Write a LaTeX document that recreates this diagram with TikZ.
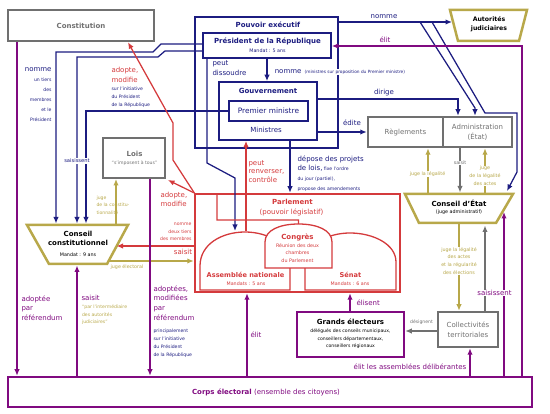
\documentclass[tikz,border=0pt]{standalone}
\usepackage{fontspec}
\setmainfont{DejaVu Sans}
\usetikzlibrary{arrows.meta}
\definecolor{nv}{HTML}{1C1C80}
\definecolor{rd}{HTML}{D43A3C}
\definecolor{pu}{HTML}{800A80}
\definecolor{ol}{HTML}{B8A84A}
\definecolor{gr}{HTML}{707070}
\newcommand\szA{\fontsize{7}{9.7}\selectfont}
\newcommand\szB{\fontsize{4.6}{8}\selectfont}
\newcommand\szT{\fontsize{7}{9}\selectfont\bfseries}
\begin{document}
\begin{tikzpicture}[x=1pt,y=-1pt,line join=miter]
\tikzset{
 box/.style={draw, line width=2.5pt, inner sep=0pt, align=center},
 nvl/.style={draw=nv, line width=1.25pt},
 rdl/.style={draw=rd, line width=1.25pt},
 oll/.style={draw=ol, line width=1.25pt},
 grl/.style={draw=gr, line width=1.25pt},
 pul/.style={draw=pu, line width=1.35pt},
 arr/.style={-{Latex[length=6.5pt,width=5.5pt]}},
 lb/.style={inner sep=0.3pt},
 wlb/.style={inner sep=0.6pt, fill=white},
 trap/.style={draw=ol, line width=2.5pt},
}
\useasboundingbox (0,0) rectangle (550,414);

% ---------- boxes ----------
\node[box,draw=gr,text=gr,font=\szT,minimum width=146,minimum height=31] (const) at (81,25.5) {Constitution};

\node[box,draw=nv,line width=2.8pt,minimum width=143,minimum height=131] (pe) at (266.5,82.5) {};
\node[lb,text=nv,font=\szT] (pet) at (268,25) {Pouvoir exécutif};
\node[box,draw=nv,line width=1.5pt,minimum width=128,minimum height=25] (pres) at (267,45.5) {};
\node[lb,text=nv,font=\szT] (prest) at (267.5,41) {Président de la République};
\node[lb,text=nv,font=\fontsize{4.8}{6}\selectfont] (presm) at (267.5,51) {Mandat : 5 ans};
\node[box,draw=nv,line width=1.8pt,minimum width=98,minimum height=58] (gov) at (268,111) {};
\node[lb,text=nv,font=\szT] (govt) at (268,91) {Gouvernement};
\node[box,draw=nv,line width=1.2pt,minimum width=79,minimum height=20,text=nv,font=\fontsize{7.4}{9}\selectfont] (pm) at (268.5,111) {Premier ministre};
\node[lb,text=nv,font=\szA] (min) at (266,130) {Ministres};

\node[box,draw=gr,line width=2pt,minimum width=62,minimum height=40] (lois) at (134,158) {};
\node[lb,text=gr,font=\szT] (loist) at (134.5,154) {Lois};
\node[lb,text=gr,font=\szB] (loiss) at (134.5,163) {“s'imposent à tous”};

\node[box,draw=gr,text=gr,font=\szA,minimum width=75,minimum height=30] (regl) at (405.5,132) {Règlements};
\node[box,draw=gr,text=gr,font=\fontsize{7}{10}\selectfont,minimum width=69,minimum height=30] (admin) at (477.5,132) {Administration\\(État)};

% Parlement
\node[box,draw=rd,minimum width=205,minimum height=98] (parl) at (297.5,243) {};
\draw[rd,line width=1.3pt] (200,290) -- (200,266) .. controls (200,244) and (222,232) .. (245,232) .. controls (268,232) and (290,244) .. (290,266) -- (290,290) -- cycle;
\draw[rd,line width=1.3pt] (305,290) -- (305,266) .. controls (305,244) and (328,233) .. (350,233) .. controls (373,233) and (396,244) .. (396,262) -- (396,290) -- cycle;
\draw[rd,line width=1.3pt,fill=white] (265,268) -- (265,242) .. controls (265,230) and (280,224) .. (298.5,224) .. controls (317,224) and (332,230) .. (332,242) -- (332,268) -- cycle;
\node[lb,text=rd,font=\szT] (parlt) at (292.5,202) {Parlement};
\node[lb,text=rd,font=\szA] (parls) at (291.5,212) {(pouvoir législatif)};
\node[lb,text=rd,font=\szT] (congt) at (297.5,237) {Congrès};
\node[lb,text=rd,font=\fontsize{4.8}{7.6}\selectfont,align=center,anchor=north] (congs) at (297.5,243) {Réunion des deux\\chambres\\du Parlement};
\node[lb,text=rd,font=\fontsize{6.6}{8}\selectfont\bfseries] (ant) at (245.5,275) {Assemblée nationale};
\node[lb,text=rd,font=\fontsize{4.8}{6}\selectfont] (anm) at (246,283.5) {Mandats : 5 ans};
\node[lb,text=rd,font=\fontsize{6.6}{8}\selectfont\bfseries] (sent) at (350.5,275) {Sénat};
\node[lb,text=rd,font=\fontsize{4.8}{6}\selectfont] (senm) at (350,283.5) {Mandats : 6 ans};

% trapezoids
\draw[trap] (27,225) -- (128,225) -- (107,264) -- (49,264) -- cycle;
\node[lb,font=\szT,align=center] (cc) at (78,238.5) {Conseil\\constitutionnel};
\node[lb,font=\fontsize{4.8}{6}\selectfont] (ccm) at (78,254.5) {Mandat : 9 ans};

\draw[trap] (405,194) -- (513,194) -- (496,223) -- (419,223) -- cycle;
\node[lb,font=\szT] (ce) at (459,203.5) {Conseil d'État};
\node[lb,font=\fontsize{4.8}{6}\selectfont] (ces) at (459,212.5) {(juge administratif)};

\draw[trap] (450,10) -- (527,10) -- (519,41) -- (458,41) -- cycle;
\node[lb,font=\fontsize{6.2}{9.5}\selectfont\bfseries,align=center] (aj) at (489,24) {Autorités\\judiciaires};

\node[box,draw=pu,minimum width=107,minimum height=45] (ge) at (350.5,334.5) {};
\node[lb,font=\szT] (get) at (350.5,322) {Grands électeurs};
\node[lb,font=\fontsize{4.6}{7.6}\selectfont,align=center,anchor=north] (ges) at (350.5,328.5) {délégués des conseils municipaux,\\conseillers départementaux,\\conseillers régionaux};

\node[box,draw=gr,text=gr,font=\fontsize{7}{10}\selectfont,minimum width=60,minimum height=35] (coll) at (468,329.5) {Collectivités\\territoriales};

\node[box,draw=pu,minimum width=524,minimum height=30] (corps) at (270,392) {};
\node[lb,text=pu,font=\szA] (corpst) at (266,392) {\textbf{Corps électoral} (ensemble des citoyens)};

% ---------- navy connectors ----------
\draw[nvl,arr] (pres.south) -- (pres.south |- gov.north);
\draw[nvl,arr] (207,58) -- (207,163) -- (235,178) -- (235,231);
\draw[nvl,arr] (pres.west |- 0,44) -- (161,44) -- (153,52) -- (56,52) -- (56,223.5);
\draw[nvl,arr] (pres.west |- 0,51) -- (165,51) -- (158,57) -- (77,57) -- (77,223.5);
\draw[nvl,arr] (pm.west) -- (86,111) -- (86,223.5);
\draw[nvl,arr] (gov.south -| 290,0) -- (parl.north -| 290,0);
\draw[nvl,arr] (gov.east |- 0,99) -- (458,99) -- (admin.north -| 458,0);
\draw[nvl,arr] (gov.east |- 0,132) -- (regl.west);
\draw[nvl,arr] (pe.east |- 0,22) -- (452,22);
\draw[nvl,arr] (420,22) -- (475,108) -- (admin.north -| 475,0);
\draw[nvl,arr] (432,22) -- (485,113) -- (517,113) -- (517,172) -- (507,191);

% ---------- red connectors ----------
\draw[rdl,arr] (246,231) -- (gov.south -| 246,0);
\draw[rdl,arr] (parl.north west) -- (168,180);
\draw[rdl,arr] (298.5,224) -- (298.5,220) -- (217,220) -- (217,194) -- (195,194) -- (173,160) -- (173,123) -- (const.south -| 128,0);
\draw[rdl,arr] (parl.west |- 0,246) -- (116.5,246);

% ---------- olive connectors ----------
\draw[oll,arr] (109,261) -- (parl.west |- 0,261);
\draw[oll,arr] (116,224) -- (lois.south -| 116,0);
\draw[oll,arr] (428,193) -- (regl.south -| 428,0);
\draw[oll,arr] (485,193) -- (admin.south -| 485,0);
\draw[oll,arr] (459,224) -- (coll.north -| 459,0);

% ---------- gray connectors ----------
\draw[grl,arr] (admin.south -| 460,0) -- (460,192.5);
\draw[grl,arr] (coll.north -| 485,0) -- (485,225.5);
\draw[grl,arr] (coll.west |- 0,331) -- (ge.east |- 0,331);

% ---------- purple connectors ----------
\draw[pul,arr] (const.south -| 17,0) -- (corps.north -| 17,0);
\draw[pul,arr] (corps.north -| 77,0) -- (77,265.5);
\draw[pul,arr] (lois.south -| 150,0) -- (corps.north -| 150,0);
\draw[pul,arr] (corps.north -| 247,0) -- (parl.south -| 247,0);
\draw[pul,arr] (ge.north -| 350,0) -- (parl.south -| 350,0);
\draw[pul,arr] (corps.north -| 470,0) -- (coll.south -| 470,0);
\draw[pul,arr] (corps.north -| 504,0) -- (504,212);
\draw[pul,arr] (corps.north -| 522,0) -- (522,46) -- (pres.east |- 0,46);

% ---------- labels ----------
\node[lb,text=nv,font=\szA,anchor=east] (ln1) at (52,70) {nomme};
\node[lb,text=nv,font=\fontsize{4.6}{9.8}\selectfont,align=right,anchor=north east] (ln2) at (52,78) {un tiers\\des\\membres\\et le\\Président};
\node[wlb,text=nv,font=\fontsize{5.2}{6}\selectfont] (lsai) at (77,161) {saisissent};
\node[lb,text=nv,font=\szA,align=left,anchor=north west] (ldis) at (212,60) {peut\\dissoudre};
\node[wlb,text=nv,anchor=west] (lnom) at (274,72) {{\szA nomme} {\fontsize{4.3}{5}\selectfont (ministres sur proposition du Premier ministre)}};
\node[lb,text=nv,font=\fontsize{4.6}{9.7}\selectfont,align=left,anchor=north west] (ldep) at (297,155) {{\szA dépose des projets}\\{\szA de lois,} fixe l'ordre\\du jour (partiel),\\propose des amendements};
\node[lb,text=nv,font=\szA] (ldir) at (384,93) {dirige};
\node[lb,text=nv,font=\szA] (ledi) at (352,123) {édite};
\node[lb,text=nv,font=\szA] (lnaj) at (384,16.5) {nomme};
\node[lb,text=nv,font=\szB,align=left,anchor=north west] (linit) at (111,86.5) {sur l'initiative\\du Président\\de la République};
\node[lb,text=nv,font=\szB,align=left,anchor=north west] (lprin) at (153,328.5) {principalement\\sur l'initiative\\du Président\\de la République};

\node[lb,text=rd,font=\fontsize{7}{10}\selectfont,align=left,anchor=north west] (lado1) at (111,67) {adopte,\\modifie};
\node[lb,text=rd,font=\fontsize{7}{8.5}\selectfont,align=left,anchor=north west] (lado2) at (160,192) {adopte,\\modifie};
\node[lb,text=rd,font=\fontsize{7}{8.3}\selectfont,align=left,anchor=north west] (lren) at (248,160) {peut\\renverser,\\contrôle};
\node[lb,text=rd,font=\fontsize{4.6}{7.5}\selectfont,align=right,anchor=north east] (ldt) at (192,222.5) {nomme\\deux tiers\\des membres};
\node[lb,text=rd,font=\szA] (lsr) at (183,252) {saisit};

\node[lb,text=ol,font=\fontsize{4.6}{7.5}\selectfont,align=left,anchor=north west] (ljc) at (96,195.5) {juge\\de la constitu-\\tionnalité};
\node[lb,text=ol,font=\fontsize{4.8}{6}\selectfont] (lje) at (127,267) {juge électoral};
\node[lb,text=ol,font=\fontsize{4.6}{7.5}\selectfont,align=left,anchor=north west] (lpar) at (81.5,304.5) {“par l'intermédiaire\\des autorités\\judiciaires”};
\node[wlb,text=ol,font=\fontsize{4.8}{6}\selectfont] (ljl) at (427.5,174) {juge la légalité};
\node[wlb,text=ol,font=\fontsize{4.8}{7.7}\selectfont,align=center,anchor=north] (ljla) at (485,165.5) {juge\\de la légalité\\des actes};
\node[wlb,text=ol,font=\fontsize{4.8}{7.8}\selectfont,align=center,anchor=north] (ljle) at (459,246.5) {juge la légalité\\des actes\\et la régularité\\des élections};

\node[wlb,text=gr,font=\fontsize{4.8}{6}\selectfont] (lsg) at (460,163) {saisit};
\node[lb,text=gr,font=\fontsize{4.6}{6}\selectfont] (ldes) at (421.5,322.5) {désignent};

\node[lb,text=pu,font=\szA,align=left,anchor=north west] (lref1) at (21,295) {adoptée\\par\\référendum};
\node[lb,text=pu,font=\szA,anchor=west] (lsp) at (81,298) {saisit};
\node[lb,text=pu,font=\szA,align=left,anchor=north west] (lref2) at (153,285) {adoptées,\\modifiées\\par\\référendum};
\node[lb,text=pu,font=\szA] (lelan) at (256,335) {élit};
\node[lb,text=pu,font=\szA,anchor=west] (lelis) at (356,302.5) {élisent};
\node[lb,text=pu,font=\szA] (lelad) at (410,367) {élit les assemblées délibérantes};
\node[wlb,text=pu,font=\szA] (lsai2) at (494.5,293) {saisissent};
\node[lb,text=pu,font=\szA] (lelp) at (385,40) {élit};
\end{tikzpicture}
\end{document}
